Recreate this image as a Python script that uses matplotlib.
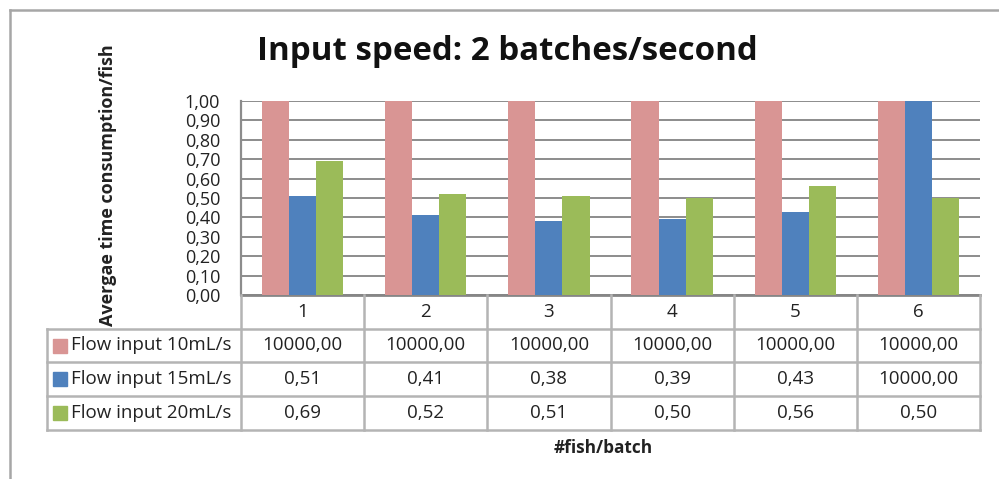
import numpy as np
import matplotlib
matplotlib.use("Agg")
import matplotlib.pyplot as plt
from matplotlib.lines import Line2D
from matplotlib.patches import Rectangle

plt.rcParams['font.family'] = ['Open Sans', 'DejaVu Sans']

# Dados
categorias = ["1", "2", "3", "4", "5", "6"]
series = ["Flow input 10mL/s", "Flow input 15mL/s", "Flow input 20mL/s"]
flow_10 = [10000.00, 10000.00, 10000.00, 10000.00, 10000.00, 10000.00]
flow_15 = [0.51, 0.41, 0.38, 0.39, 0.43, 10000.00]
flow_20 = [0.69, 0.52, 0.51, 0.50, 0.56, 0.50]
cores = ["#D99594", "#4F81BD", "#9BBB59"]
y_ticks = [0.0, 0.1, 0.2, 0.3, 0.4, 0.5, 0.6, 0.7, 0.8, 0.9, 1.0]

W, H = 999, 479
fig = plt.figure(figsize=(W / 100, H / 100), dpi=100)

def fx(px):
    return px / W

def fy(py):
    return 1 - py / H

# moldura externa
fig.add_artist(Line2D([fx(10), fx(10)], [fy(10), 0], color="#A6A6A6", lw=1.8))
fig.add_artist(Line2D([fx(10), 1], [fy(10), fy(10)], color="#A6A6A6", lw=1.8))

x0, x1, ytop, ybot = 241, 980, 101, 295
ax = fig.add_axes([fx(x0), fy(ybot), fx(x1 - x0), (ybot - ytop) / H])

x = np.arange(1, len(categorias) + 1)
largura = 0.22
for i, (vals, cor) in enumerate(zip([flow_10, flow_15, flow_20], cores)):
    ax.bar(x + (i - 1) * largura, vals, width=largura, color=cor, zorder=3)

ax.set_xlim(0.5, len(categorias) + 0.5)
ax.set_ylim(0, 1.0)
ax.set_yticks(y_ticks)
ax.set_yticklabels([f"{v:.2f}".replace(".", ",") for v in y_ticks])
ax.set_xticks([])
ax.tick_params(axis="y", length=0, pad=15, labelsize=13, labelcolor="#222222")
ax.grid(axis="y", color="#8C8C8C", lw=1.4, zorder=0)
for s in ["top", "right"]:
    ax.spines[s].set_visible(False)
ax.spines["left"].set_color("#8C8C8C")
ax.spines["left"].set_linewidth(1.6)
ax.spines["bottom"].set_color("#868686")
ax.spines["bottom"].set_linewidth(2.0)

# tabela de dados abaixo do gráfico
cor_linha = "#B4B4B4"
linhas_y = [329, 362, 396, 430]
col_w = (x1 - x0) / len(categorias)
bordas_x = [x0 + k * col_w for k in range(len(categorias) + 1)]
fs_tab = 13.5

def hline(xa, xb, py):
    fig.add_artist(Line2D([fx(xa), fx(xb)], [fy(py), fy(py)], color=cor_linha, lw=1.8))

def vline(px, ya, yb):
    fig.add_artist(Line2D([fx(px), fx(px)], [fy(ya), fy(yb)], color=cor_linha, lw=1.8))

for py in linhas_y:
    hline(47, x1, py)
vline(47, linhas_y[0], linhas_y[-1])
for bx in bordas_x:
    vline(bx, ybot, linhas_y[-1])

for k, cat in enumerate(categorias):
    fig.text(fx(x0 + (k + 0.5) * col_w), fy((ybot + linhas_y[0]) / 2), cat,
             ha="center", va="center", fontsize=fs_tab, color="#222222")

dados = [flow_10, flow_15, flow_20]
for r, (nome, vals, cor) in enumerate(zip(series, dados, cores)):
    yc = (linhas_y[r] + linhas_y[r + 1]) / 2
    fig.add_artist(Rectangle((fx(53), fy(yc + 7)), fx(14), 14 / H, color=cor))
    fig.text(fx(71), fy(yc), nome, ha="left", va="center", fontsize=fs_tab, color="#222222")
    for k, v in enumerate(vals):
        fig.text(fx(x0 + (k + 0.5) * col_w), fy(yc), f"{v:.2f}".replace(".", ","),
                 ha="center", va="center", fontsize=fs_tab, color="#222222")

fig.text(fx(507), fy(51), "Input speed: 2 batches/second", ha="center", va="center",
         fontsize=23.8, fontweight="bold", color="#111111")
fig.text(fx(108), fy(185), "Avergae time consumption/fish", ha="center", va="center",
         rotation=90, fontsize=13, fontweight="bold", color="#222222")
fig.text(fx(603), fy(448), "#fish/batch", ha="center", va="center",
         fontsize=12.4, fontweight="bold", color="#222222")

fig.savefig("out.png", dpi=100)
